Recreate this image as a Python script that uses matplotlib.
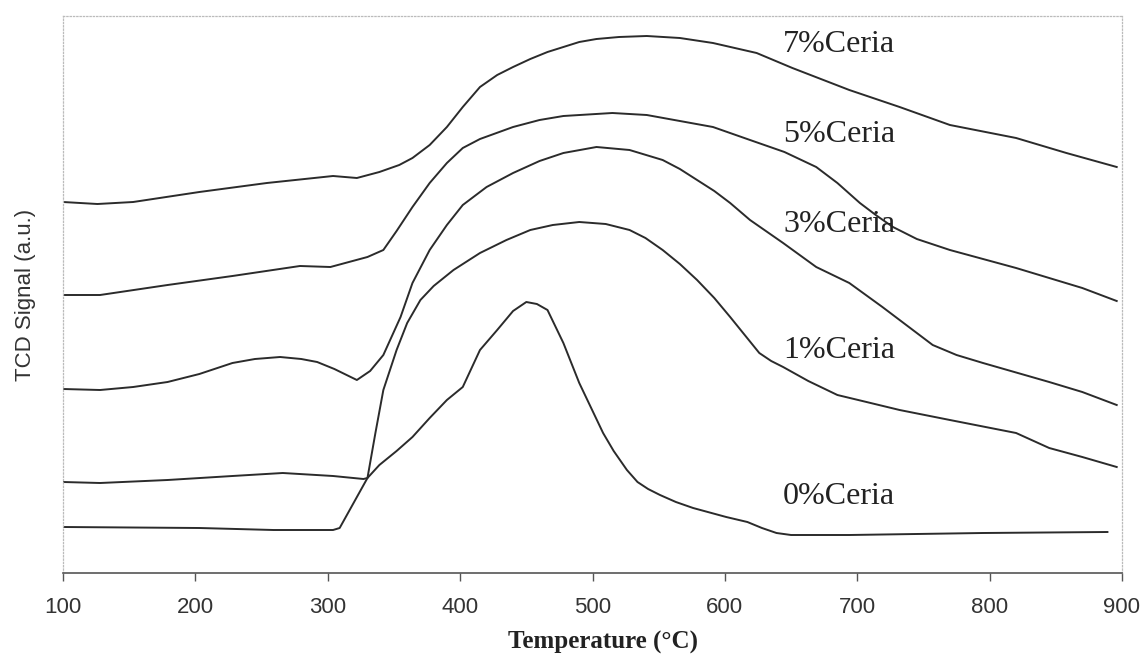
import matplotlib
matplotlib.use("Agg")
import matplotlib.pyplot as plt

# TPR profiles (temperature in C, signal in a.u.)
t_7 = [100, 126, 153, 203, 254, 304, 322, 339, 354, 364, 377, 390, 402, 415, 428, 440,
       453, 466, 478, 490, 503, 520, 541, 566, 591, 624, 651, 694, 732, 770, 820, 858, 896]
s_7 = [3.71, 3.69, 3.71, 3.81, 3.90, 3.97, 3.95, 4.01, 4.08, 4.15, 4.28, 4.46, 4.66, 4.86, 4.98, 5.06,
       5.14, 5.21, 5.26, 5.31, 5.34, 5.36, 5.37, 5.35, 5.30, 5.20, 5.05, 4.83, 4.66, 4.48, 4.35, 4.20, 4.06]

t_5 = [100, 128, 179, 228, 279, 302, 330, 342, 352, 364, 377, 390, 402, 415, 440, 460,
       478, 515, 541, 566, 591, 619, 645, 669, 685, 702, 715, 727, 745, 770, 820, 870, 896]
s_5 = [2.78, 2.78, 2.88, 2.97, 3.07, 3.06, 3.16, 3.23, 3.42, 3.66, 3.90, 4.10, 4.25, 4.34, 4.46, 4.53,
       4.57, 4.60, 4.58, 4.52, 4.46, 4.33, 4.21, 4.06, 3.90, 3.70, 3.57, 3.46, 3.34, 3.23, 3.05, 2.85, 2.72]

t_3 = [100, 128, 153, 179, 203, 228, 245, 264, 280, 292, 305, 322, 332, 342, 355, 364,
       377, 390, 402, 420, 440, 460, 478, 503, 528, 553, 566, 579, 592, 604, 619, 644,
       669, 694, 719, 745, 757, 775, 795, 845, 870, 896]
s_3 = [1.84, 1.83, 1.86, 1.91, 1.99, 2.10, 2.14, 2.16, 2.14, 2.11, 2.04, 1.93, 2.02, 2.18, 2.56, 2.90,
       3.23, 3.48, 3.68, 3.86, 4.00, 4.12, 4.20, 4.26, 4.23, 4.13, 4.04, 3.93, 3.82, 3.70, 3.53, 3.30,
       3.06, 2.90, 2.66, 2.40, 2.28, 2.18, 2.10, 1.91, 1.81, 1.68]

t_1 = [100, 128, 179, 228, 266, 304, 327, 330, 336, 342, 352, 360, 370, 380, 395, 415,
       435, 453, 470, 490, 510, 528, 540, 553, 566, 579, 592, 604, 615, 626, 635, 644,
       663, 685, 707, 732, 770, 820, 845, 870, 896]
s_1 = [0.91, 0.90, 0.93, 0.97, 1.00, 0.97, 0.94, 0.95, 1.40, 1.83, 2.23, 2.50, 2.73, 2.87, 3.03, 3.20,
       3.33, 3.43, 3.48, 3.51, 3.49, 3.43, 3.35, 3.23, 3.09, 2.93, 2.75, 2.56, 2.38, 2.20, 2.12, 2.06,
       1.92, 1.78, 1.71, 1.63, 1.53, 1.40, 1.25, 1.16, 1.06]

t_0 = [100, 203, 259, 304, 309, 330, 339, 352, 364, 377, 390, 402, 415, 428, 440, 450,
       458, 466, 478, 490, 508, 516, 526, 534, 542, 551, 563, 576, 601, 617, 628, 639,
       650, 694, 795, 889]
s_0 = [0.46, 0.45, 0.43, 0.43, 0.45, 0.95, 1.08, 1.22, 1.36, 1.55, 1.73, 1.86, 2.23, 2.43, 2.62, 2.71,
       2.69, 2.63, 2.30, 1.90, 1.40, 1.22, 1.03, 0.91, 0.84, 0.78, 0.71, 0.65, 0.56, 0.51, 0.45, 0.40,
       0.38, 0.38, 0.40, 0.41]

labels = ["7%Ceria", "5%Ceria", "3%Ceria", "1%Ceria", "0%Ceria"]
label_y = [5.29, 4.38, 3.49, 2.22, 0.77]
label_t = 644

fig = plt.figure(figsize=(11.42, 6.65), dpi=100)
ax = fig.add_axes([63 / 1142, 1 - 573 / 665, 1059 / 1142, 557 / 665])

for t, s in [(t_7, s_7), (t_5, s_5), (t_3, s_3), (t_1, s_1), (t_0, s_0)]:
    ax.plot(t, s, color="#2b2b2b", lw=1.4, solid_joinstyle="round")

for lab, y in zip(labels, label_y):
    ax.text(label_t, y, lab, ha="left", va="center", fontsize=23,
            family="Liberation Serif", color="#222222")

ax.set_xlim(100, 900)
ax.set_ylim(0, 5.57)
ax.set_xticks(range(100, 901, 100))
ax.set_yticks([])
ax.tick_params(axis="x", direction="out", length=6, width=1, color="#555555",
               labelsize=16, labelcolor="#333333", pad=11)
for lab in ax.get_xticklabels():
    lab.set_family("Liberation Sans")

for side in ["top", "left", "right"]:
    ax.spines[side].set_color("#bbbbbb")
    ax.spines[side].set_linestyle(":")
    ax.spines[side].set_linewidth(0.9)
ax.spines["bottom"].set_color("#555555")
ax.spines["bottom"].set_linewidth(1.2)

ax.set_xlabel("Temperature (\u00b0C)", fontsize=18, fontweight="bold",
              family="Liberation Serif", color="#222222", va="center")
ax.xaxis.set_label_coords(0.51, -0.124)
ax.set_ylabel("TCD Signal (a.u.)", fontsize=16, family="Liberation Sans",
              color="#333333", va="center")
ax.yaxis.set_label_coords(-0.035, 0.5)

fig.savefig("out.png", dpi=100)
